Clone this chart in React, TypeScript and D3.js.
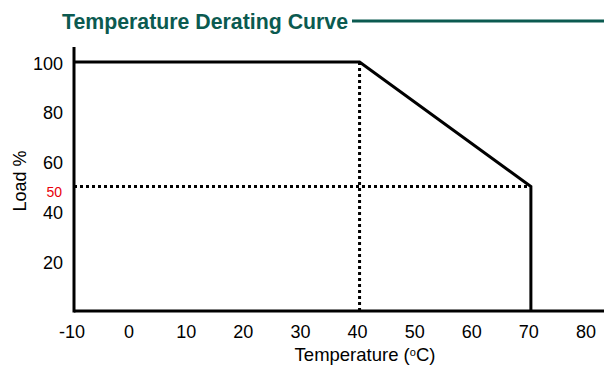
import * as d3 from "d3";

const curveTemp = [-10, 40, 70, 70];
const curveLoad = [100, 100, 50, 0];
const xTicks = [-10, 0, 10, 20, 30, 40, 50, 60, 70, 80];
const yTicks = [20, 40, 60, 80, 100];
const markTemp = 40;
const markLoad = 50;
const title = "Temperature Derating Curve";

export default function App() {
  const width = 604;
  const height = 368;
  const x = d3.scaleLinear().domain([-10, 80]).range([74, 588]);
  const y = d3.scaleLinear().domain([0, 100]).range([311, 62]);
  const line = d3.line<number>().x((_, i) => x(curveTemp[i])).y((v) => y(v));
  const font = "Liberation Sans, Arial, sans-serif";
  const teal = "#0b5a50";

  return (
    <svg width={width} height={height} style={{ position: "absolute", left: 0, top: 0 }} fontFamily={font}>
      <rect width={width} height={height} fill="#fff" />
      <text x={62} y={29} fontSize={21.3} fontWeight="bold" fill={teal}>{title}</text>
      <line x1={352} x2={width} y1={21} y2={21} stroke={teal} strokeWidth={3} />

      {/* dotted guides */}
      <line x1={x(markTemp)} x2={x(markTemp)} y1={y(100)} y2={y(0)} stroke="#000" strokeWidth={3} strokeDasharray="3,3" />
      <line x1={x(-10)} x2={x(70)} y1={y(markLoad)} y2={y(markLoad)} stroke="#000" strokeWidth={3} strokeDasharray="3,3" />

      {/* axes */}
      <line x1={x(-10)} x2={x(-10)} y1={y(106)} y2={y(0) + 1.5} stroke="#000" strokeWidth={3} />
      <line x1={x(-10)} x2={width} y1={y(0)} y2={y(0)} stroke="#000" strokeWidth={3} />

      <path d={line(curveLoad) ?? ""} fill="none" stroke="#000" strokeWidth={3} strokeLinejoin="miter" />

      {yTicks.map((t) => (
        <text key={t} x={63} y={y(t) + 7.5} textAnchor="end" fontSize={18} fill="#000">{t}</text>
      ))}
      <text x={62} y={y(markLoad) + 10} textAnchor="end" fontSize={14} fill="#e8000b">{markLoad}</text>
      {xTicks.map((t) => (
        <text key={t} x={x(t) - 2} y={338} textAnchor="middle" fontSize={18} fill="#000">{t}</text>
      ))}
      <text transform={`translate(26, 181) rotate(-90)`} textAnchor="middle" fontSize={18} fill="#000">Load %</text>
      <text x={365} y={361} textAnchor="middle" fontSize={18.5} fill="#000">
        Temperature (<tspan fontSize={11} dy={-5}>o</tspan><tspan dy={5}>C)</tspan>
      </text>
    </svg>
  );
}
